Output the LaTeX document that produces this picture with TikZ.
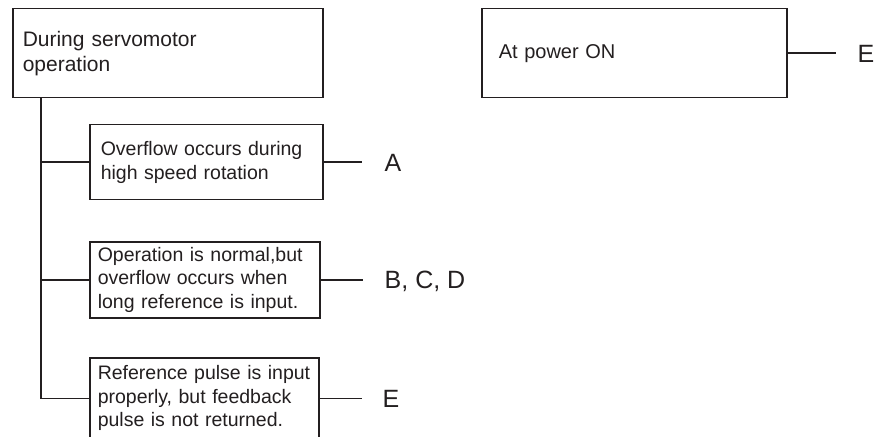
\documentclass[tikz,border=0pt]{standalone}
\usepackage{fontspec}
\setmainfont{Liberation Sans}
\definecolor{ink}{HTML}{231F20}
\hyphenpenalty=10000
\begin{document}
\begin{tikzpicture}[x=1pt,y=-1pt,
  box/.style={draw=ink, line width=1.5pt, anchor=north west, align=left,
    inner ysep=0pt, text=ink, font=\fontsize{19.5}{23.5}\selectfont},
  lab/.style={anchor=base west, inner sep=0pt, text=ink, font=\fontsize{25}{28}\selectfont},
  wire/.style={draw=ink, line width=1.5pt}]
\useasboundingbox (0,0) rectangle (877,438);
\clip (0,0) rectangle (877,436.5);
\fill[white] (0,0) rectangle (877,438);
% boxes
\node[box, inner xsep=10pt, text width=290pt, minimum height=89pt,
  font=\fontsize{21}{25}\selectfont] (main) at (12,8)
  {During servomotor\\operation};
\node[box, inner xsep=17pt, text width=271pt, minimum height=89pt,
  font=\fontsize{20}{24}\selectfont] (pwr) at (481,8)
  {At power ON};
\node[box, inner xsep=11pt, text width=211pt, minimum height=75pt] (bA) at (89,124)
  {Overflow occurs during\\high speed rotation};
\node[box, inner xsep=8pt, text width=214pt, minimum height=76pt] (bB) at (89,241)
  {\mbox{Operation is normal,but}\\overflow occurs when\\\mbox{long reference is input.}};
\node[box, inner xsep=8pt, text width=213pt, minimum height=81pt] (bC) at (89,357)
  {\mbox{Reference pulse is input}\\properly, but feedback\\\mbox{pulse is not returned.}};
% trunk
\coordinate (t) at ([xshift=29pt]main.south west);
\draw[wire] (t) |- (bC.west);
\draw[wire] (t |- bA.west) -- (bA.west);
\draw[wire] (t |- bB.west) -- (bB.west);
% outputs
\draw[wire] (bA.east) -- ++(38,0) coordinate (eA);
\node[lab] (lA) at ([xshift=23pt, yshift=-9pt]eA) {A};
\draw[wire] (bB.east) -- ++(42,0) coordinate (eB);
\node[lab] (lB) at ([xshift=22pt, yshift=-9pt]eB) {B, C, D};
\draw[wire] (bC.east) -- ++(42,0) coordinate (eC);
\node[lab] (lC) at ([xshift=21pt, yshift=-9pt]eC) {E};
\draw[wire] (pwr.east) -- ++(48,0) coordinate (eP);
\node[lab] (lP) at ([xshift=22pt, yshift=-9pt]eP) {E};
\end{tikzpicture}
\end{document}
